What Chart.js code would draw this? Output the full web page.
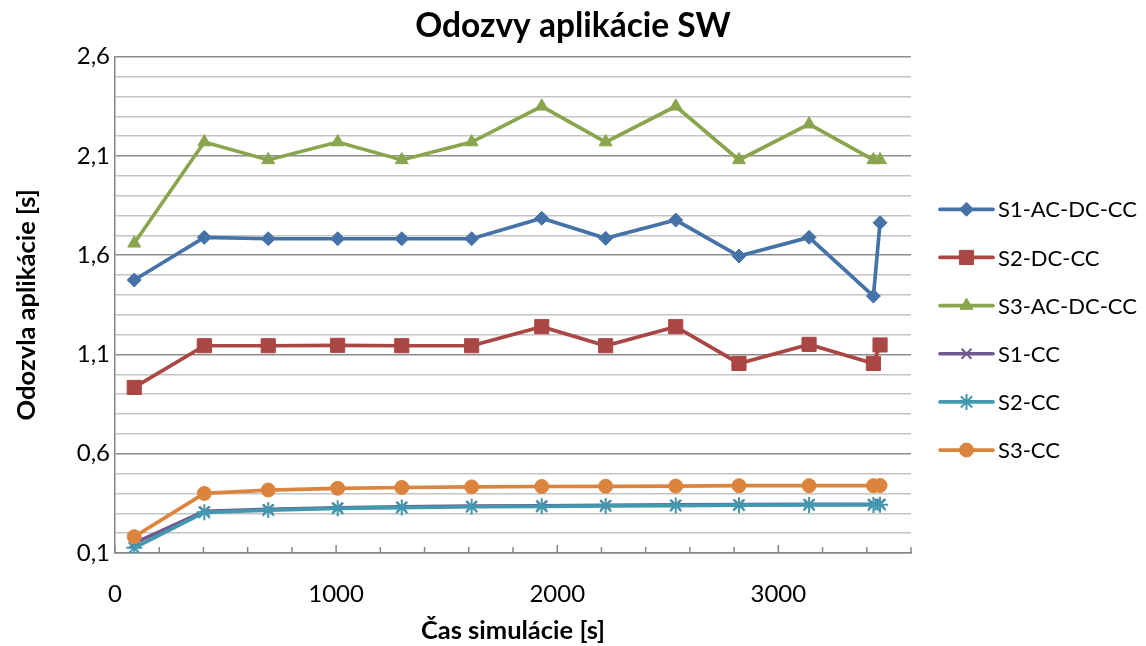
<!DOCTYPE html>
<html><head><meta charset="utf-8">
<script src="https://cdn.jsdelivr.net/npm/chart.js@4"></script>
<style>html,body{margin:0;padding:0;background:#fff}#wrap{width:1146px;height:646px;position:relative}</style>
</head><body><div id="wrap"><canvas id="c" width="1146" height="646"></canvas></div>
<script>
// ---- data ----
const times = [87, 404, 693, 1007, 1297, 1613, 1930, 2219, 2536, 2822, 3139, 3430, 3460];
const s1AcDcCc = [1.475, 1.69, 1.683, 1.683, 1.683, 1.683, 1.786, 1.685, 1.777, 1.596, 1.69, 1.394, 1.764];
const s2DcCc   = [0.934, 1.144, 1.144, 1.146, 1.144, 1.144, 1.24, 1.144, 1.24, 1.055, 1.151, 1.055, 1.148];
const s3AcDcCc = [1.66, 2.17, 2.08, 2.17, 2.08, 2.17, 2.35, 2.17, 2.35, 2.08, 2.26, 2.08, 2.08];
const s1Cc     = [0.15, 0.31, 0.32, 0.328, 0.332, 0.336, 0.338, 0.34, 0.342, 0.344, 0.345, 0.346, 0.347];
const s2Cc     = [0.126, 0.305, 0.316, 0.325, 0.329, 0.333, 0.335, 0.337, 0.339, 0.341, 0.342, 0.342, 0.343];
const s3Cc     = [0.182, 0.40, 0.417, 0.426, 0.430, 0.433, 0.435, 0.436, 0.437, 0.439, 0.439, 0.439, 0.440];
const seriesNames = ['S1-AC-DC-CC', 'S2-DC-CC', 'S3-AC-DC-CC', 'S1-CC', 'S2-CC', 'S3-CC'];
const xTickValues = [0, 1000, 2000, 3000];
const xTickLabels = ['0', '1000', '2000', '3000'];
const yTickValues = [0.1, 0.6, 1.1, 1.6, 2.1, 2.6];
const yTickLabels = ['0,1', '0,6', '1,1', '1,6', '2,1', '2,6'];
const titleText = 'Odozvy aplikácie SW';
const xTitle = 'Čas simulácie [s]';
const yTitle = 'Odozvla aplikácie [s]';

// ---- styles ----
const seriesValues = [s1AcDcCc, s2DcCc, s3AcDcCc, s1Cc, s2Cc, s3Cc];
const colors = ['#4572A7', '#AA4643', '#89A54E', '#71588F', '#4198AF', '#DB843D'];
const pStyles = ['rectRot', 'rect', 'triangle', 'crossRot', 'star', 'circle'];
const pRadius = [7, 10, 7.5, 7, 8, 7];
const pBorder = [1, 1, 1, 2, 2, 1];
const FONT = 'Lato, "Open Sans", sans-serif';

const datasets = seriesValues.map((vals, k) => ({
  label: seriesNames[k],
  data: times.map((t, i) => ({x: t, y: vals[i]})),
  borderColor: colors[k],
  backgroundColor: colors[k],
  pointBackgroundColor: colors[k],
  pointBorderColor: colors[k],
  pointStyle: pStyles[k],
  pointRadius: pRadius[k],
  pointBorderWidth: pBorder[k],
  borderWidth: 3.7,
  tension: 0,
  yAxisID: 'y',
  order: seriesValues.length - k
}));

const isMajorY = v => yTickValues.some(m => Math.abs(m - v) < 1e-6);

const minorTicksPlugin = {
  id: 'minorTicks',
  beforeDatasetsDraw(chart) {
    const xs = chart.scales.x, ctx = chart.ctx, b = chart.chartArea.bottom;
    ctx.save();
    ctx.strokeStyle = '#868686';
    ctx.lineWidth = 1.5;
    for (let v = 0; v <= 3600; v += 200) {
      const px = xs.getPixelForValue(v);
      const len = (v % 1000 === 0) ? 8 : 6;
      ctx.beginPath(); ctx.moveTo(px, b); ctx.lineTo(px, b - len); ctx.stroke();
    }
    ctx.restore();
  }
};

const legendPlugin = {
  id: 'customLegend',
  afterDraw(chart) {
    const ctx = chart.ctx;
    const x0 = 940, x1 = 993, xm = 966.5, xt = 998, y0 = 209.3, dy = 48.15;
    ctx.save();
    datasets.forEach((ds, k) => {
      const y = y0 + k * dy;
      ctx.strokeStyle = ds.borderColor;
      ctx.lineWidth = 3.7;
      ctx.lineCap = 'round';
      ctx.beginPath(); ctx.moveTo(x0, y); ctx.lineTo(x1, y); ctx.stroke();
      ctx.lineCap = 'butt';
      ctx.fillStyle = ds.pointBackgroundColor;
      ctx.strokeStyle = ds.pointBorderColor;
      ctx.lineWidth = ds.pointBorderWidth;
      Chart.helpers.drawPoint(ctx, {pointStyle: ds.pointStyle, radius: ds.pointRadius, rotation: 0, borderWidth: ds.pointBorderWidth}, xm, y);
      ctx.fillStyle = '#000';
      ctx.font = '22px ' + FONT;
      ctx.textBaseline = 'middle';
      ctx.textAlign = 'left';
      ctx.fillText(ds.label, xt, y + 1);
    });
    ctx.restore();
  }
};

new Chart(document.getElementById('c'), {
  type: 'line',
  data: {datasets},
  plugins: [minorTicksPlugin, legendPlugin],
  options: {
    responsive: false,
    animation: false,
    events: [],
    layout: {padding: 0},
    plugins: {
      legend: {display: false},
      tooltip: {enabled: false},
      title: {
        display: true, text: titleText, color: '#000',
        font: {family: FONT, size: 33.5, weight: 'bold'},
        padding: {top: 6, bottom: 10.5}
      }
    },
    scales: {
      x: {
        type: 'linear', min: 0, max: 3600,
        afterBuildTicks: s => { s.ticks = xTickValues.map(v => ({value: v})); },
        afterFit: s => { s.height = 93; },
        grid: {display: false, drawTicks: false},
        border: {display: true, color: '#868686', width: 1.5},
        ticks: {
          autoSkip: false, maxRotation: 0, padding: 27, color: '#000',
          font: {family: FONT, size: 24},
          callback: (v) => { const i = xTickValues.indexOf(v); return i >= 0 ? xTickLabels[i] : ''; }
        },
        title: {display: true, text: xTitle, color: '#000', font: {family: FONT, size: 25.5, weight: 'bold'}, padding: {top: 0, bottom: 0}}
      },
      y: {
        type: 'linear', position: 'left', min: 0.1, max: 2.6,
        afterBuildTicks: s => {
          const t = [];
          for (let i = 0; i <= 25; i++) t.push({value: Math.round((0.1 + i * 0.1) * 10) / 10});
          s.ticks = t;
        },
        afterFit: s => { s.width = 115; },
        grid: {
          drawTicks: false,
          lineWidth: 1.5,
          color: c => (c.tick && isMajorY(c.tick.value)) ? '#8C8C8C' : '#C4C4C4'
        },
        border: {display: true, color: '#868686', width: 1.5},
        ticks: {
          padding: 5, color: '#000', autoSkip: false,
          font: {family: FONT, size: 24},
          callback: (v) => { const i = yTickValues.findIndex(m => Math.abs(m - v) < 1e-6); return i >= 0 ? yTickLabels[i] : ''; }
        },
        title: {display: true, text: yTitle, color: '#000', font: {family: FONT, size: 25.5, weight: 'bold'}, padding: {top: 11.7, bottom: 0}}
      },
      legendSpace: {
        type: 'linear', position: 'right', min: 0, max: 1,
        afterFit: s => { s.width = 235; },
        grid: {display: false, drawTicks: false},
        border: {display: false},
        ticks: {display: false}
      }
    }
  }
});
</script>
</body></html>
